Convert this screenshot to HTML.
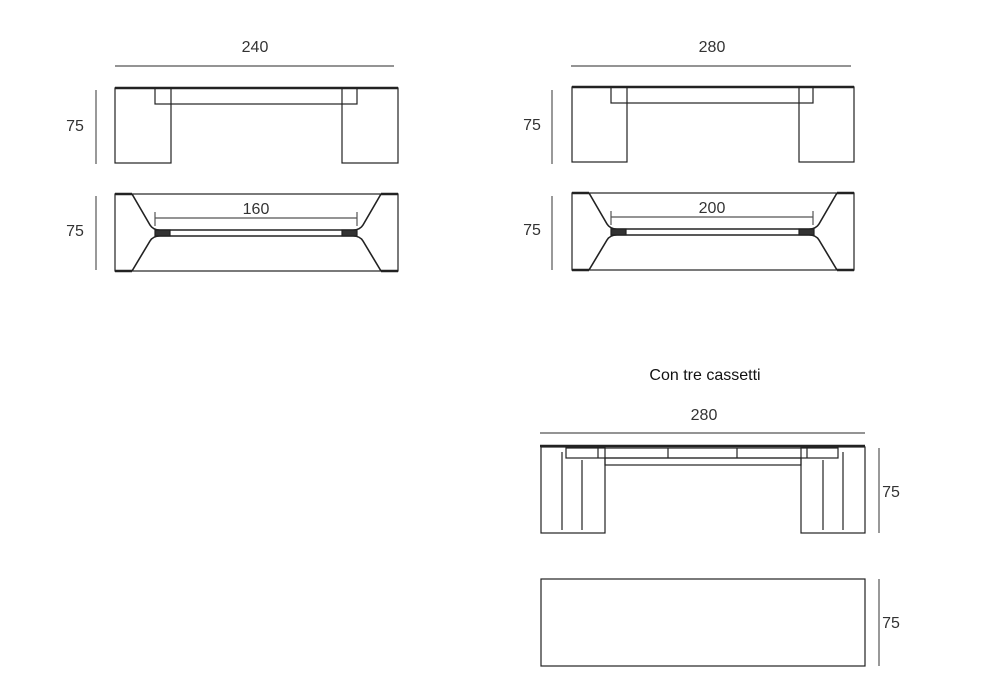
<!DOCTYPE html>
<html><head><meta charset="utf-8"><style>
html,body{margin:0;padding:0;background:#fff;width:1000px;height:700px;overflow:hidden}
svg text{font-family:"Liberation Sans",sans-serif;font-size:16px;fill:#333}
</style></head><body>
<svg width="1000" height="700" viewBox="0 0 1000 700" xmlns="http://www.w3.org/2000/svg">
<g fill="none" stroke="#222" stroke-width="1.2">
<!-- Table 1 -->
<line x1="115" y1="66" x2="394" y2="66" stroke="#555"/>
<line x1="96" y1="90" x2="96" y2="164" stroke="#555"/>
<line x1="115" y1="88" x2="398" y2="88" stroke-width="2.5"/>
<rect x="115" y="88" width="56" height="75"/>
<rect x="342" y="88" width="56" height="75"/>
<rect x="155" y="88" width="202" height="16"/>
<!-- Top view 1 -->
<rect x="115" y="194" width="283" height="77"/>
<line x1="115" y1="194" x2="132" y2="194" stroke-width="2.5"/>
<line x1="381" y1="194" x2="398" y2="194" stroke-width="2.5"/>
<line x1="115" y1="271" x2="132" y2="271" stroke-width="2.5"/>
<line x1="381" y1="271" x2="398" y2="271" stroke-width="2.5"/>
<path d="M132,194 L150,225 Q153,230 160,230 H353 Q360,230 363,225 L381,194" stroke-width="1.6"/>
<path d="M132,271 L150,241 Q153,236 160,236 H353 Q360,236 363,241 L381,271" stroke-width="1.6"/>
<rect x="155" y="230" width="15" height="6" fill="#333"/>
<rect x="342" y="230" width="15" height="6" fill="#333"/>
<line x1="155" y1="218" x2="357" y2="218" stroke="#555"/>
<line x1="155" y1="212" x2="155" y2="226" stroke="#555"/>
<line x1="357" y1="212" x2="357" y2="226" stroke="#555"/>
<line x1="96" y1="196" x2="96" y2="270" stroke="#555"/>

<!-- Table 2 -->
<line x1="571" y1="66" x2="851" y2="66" stroke="#555"/>
<line x1="552" y1="90" x2="552" y2="164" stroke="#555"/>
<line x1="572" y1="87" x2="854" y2="87" stroke-width="2.5"/>
<rect x="572" y="87" width="55" height="75"/>
<rect x="799" y="87" width="55" height="75"/>
<rect x="611" y="87" width="202" height="16"/>
<rect x="572" y="193" width="282" height="77"/>
<line x1="572" y1="193" x2="589" y2="193" stroke-width="2.5"/>
<line x1="837" y1="193" x2="854" y2="193" stroke-width="2.5"/>
<line x1="572" y1="270" x2="589" y2="270" stroke-width="2.5"/>
<line x1="837" y1="270" x2="854" y2="270" stroke-width="2.5"/>
<path d="M589,193 L607,224 Q610,229 617,229 H809 Q816,229 819,224 L837,193" stroke-width="1.6"/>
<path d="M589,270 L607,240 Q610,235 617,235 H809 Q816,235 819,240 L837,270" stroke-width="1.6"/>
<rect x="611" y="229" width="15" height="6" fill="#333"/>
<rect x="799" y="229" width="15" height="6" fill="#333"/>
<line x1="611" y1="217" x2="813" y2="217" stroke="#555"/>
<line x1="611" y1="211" x2="611" y2="225" stroke="#555"/>
<line x1="813" y1="211" x2="813" y2="225" stroke="#555"/>
<line x1="552" y1="196" x2="552" y2="270" stroke="#555"/>

<!-- Table 3 -->
<line x1="540" y1="433" x2="865" y2="433" stroke="#555"/>
<line x1="540" y1="446" x2="865" y2="446" stroke-width="2.5"/>
<rect x="541" y="447" width="64" height="86"/>
<rect x="801" y="447" width="64" height="86"/>
<rect x="566" y="448" width="272" height="10"/>
<line x1="598" y1="448" x2="598" y2="458"/>
<line x1="668" y1="448" x2="668" y2="458"/>
<line x1="737" y1="448" x2="737" y2="458"/>
<line x1="807" y1="448" x2="807" y2="458"/>
<rect x="605" y="458" width="196" height="7"/>
<line x1="562" y1="452" x2="562" y2="530"/>
<line x1="582" y1="460" x2="582" y2="530"/>
<line x1="823" y1="460" x2="823" y2="530"/>
<line x1="843" y1="452" x2="843" y2="530"/>
<line x1="879" y1="448" x2="879" y2="533" stroke="#555"/>
<rect x="541" y="579" width="324" height="87"/>
<line x1="879" y1="579" x2="879" y2="666" stroke="#555"/>
</g>
<text x="255" y="52" text-anchor="middle">240</text>
<text x="75" y="131" text-anchor="middle">75</text>
<text x="256" y="214" text-anchor="middle">160</text>
<text x="75" y="236" text-anchor="middle">75</text>
<text x="712" y="52" text-anchor="middle">280</text>
<text x="532" y="130" text-anchor="middle">75</text>
<text x="712" y="213" text-anchor="middle">200</text>
<text x="532" y="235" text-anchor="middle">75</text>
<text x="705" y="380" text-anchor="middle" style="fill:#111">Con tre cassetti</text>
<text x="704" y="420" text-anchor="middle">280</text>
<text x="891" y="497" text-anchor="middle">75</text>
<text x="891" y="628" text-anchor="middle">75</text>
</svg>
</body></html>
